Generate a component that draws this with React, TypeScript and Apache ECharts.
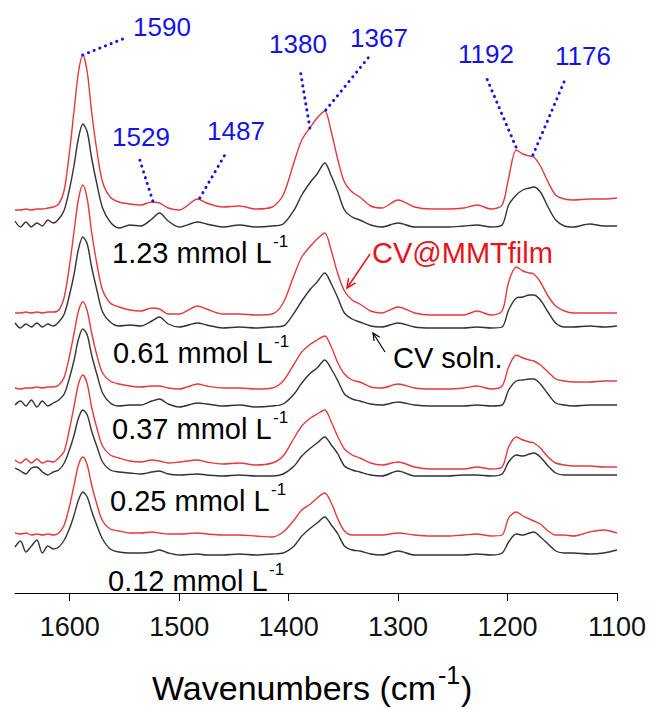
import React, { useEffect, useRef } from 'react';
import * as echarts from 'echarts';

// Wavenumber grid (cm-1) shared by every spectrum
const wavenumbers = [1650, 1645, 1640, 1635, 1630, 1625, 1620, 1615, 1610, 1605, 1600, 1596, 1592, 1588, 1584, 1580, 1575, 1570, 1563, 1555, 1545, 1535, 1525, 1518, 1510, 1500, 1483, 1475, 1460, 1445, 1430, 1415, 1405, 1395, 1388, 1380, 1374, 1367, 1361, 1355, 1349, 1342, 1335, 1325, 1315, 1300, 1285, 1270, 1255, 1240, 1228, 1215, 1205, 1199, 1192, 1186, 1180, 1176, 1170, 1163, 1156, 1148, 1140, 1125, 1112, 1100];

// Offset absorbance (a.u.) — CV@MMT film (red) and CV solution (black)
const film123 = [383, 383, 384, 383, 384, 384, 385, 386, 389, 403, 443, 483, 521, 538, 521, 481, 441, 411, 396, 391, 389, 388, 391, 390, 385, 383, 394, 390, 386, 387, 384, 386, 398, 431, 453, 466, 475, 482, 461, 433, 411, 401, 396, 387, 385, 393, 386, 384, 384, 385, 388, 384, 388, 415, 443, 439, 437, 436, 427, 411, 398, 394, 393, 394, 394, 395];
const soln123 = [372, 366, 371, 366, 370, 367, 373, 370, 374, 383, 405, 428, 455, 469, 461, 435, 408, 385, 371, 365, 368, 367, 374, 380, 372, 366, 371, 369, 366, 368, 366, 367, 369, 383, 398, 411, 419, 430, 417, 401, 383, 376, 373, 368, 366, 370, 366, 366, 366, 367, 368, 366, 368, 388, 398, 403, 405, 406, 401, 386, 373, 367, 366, 369, 367, 367];
const film061 = [280, 280, 281, 280, 281, 280, 281, 281, 283, 296, 329, 362, 394, 408, 394, 361, 328, 303, 290, 286, 283, 282, 285, 284, 279, 279, 287, 284, 279, 279, 278, 279, 290, 318, 336, 347, 354, 360, 342, 319, 302, 293, 289, 282, 280, 286, 280, 278, 278, 278, 282, 278, 282, 311, 326, 322, 320, 319, 311, 297, 287, 282, 280, 280, 280, 280];
const soln061 = [270, 265, 269, 266, 270, 266, 269, 267, 271, 279, 299, 319, 344, 356, 349, 326, 302, 281, 271, 267, 268, 267, 272, 276, 269, 266, 270, 268, 265, 266, 265, 266, 267, 280, 292, 304, 311, 320, 309, 295, 280, 274, 271, 267, 266, 270, 266, 265, 265, 265, 266, 265, 266, 283, 295, 296, 298, 298, 293, 281, 270, 266, 266, 267, 266, 267];
const film037 = [205, 204, 205, 205, 206, 205, 206, 206, 208, 216, 238, 260, 282, 291, 282, 260, 237, 220, 212, 209, 207, 206, 207, 207, 205, 204, 209, 207, 205, 205, 204, 205, 212, 229, 241, 249, 253, 257, 246, 230, 219, 213, 211, 206, 205, 209, 205, 204, 204, 205, 207, 204, 207, 226, 238, 235, 233, 232, 228, 221, 214, 212, 211, 211, 212, 212];
const soln037 = [188, 192, 187, 193, 186, 192, 187, 190, 193, 199, 216, 233, 254, 264, 258, 238, 218, 200, 190, 187, 188, 188, 192, 194, 189, 186, 190, 189, 187, 188, 186, 187, 189, 199, 210, 220, 225, 233, 224, 212, 199, 194, 192, 189, 188, 191, 188, 187, 187, 187, 188, 187, 188, 203, 212, 213, 214, 214, 209, 199, 190, 188, 187, 188, 188, 188];
const film025 = [133, 130, 134, 130, 134, 130, 132, 131, 135, 142, 165, 187, 209, 218, 209, 186, 164, 147, 138, 135, 132, 131, 133, 132, 130, 131, 133, 131, 129, 130, 128, 130, 137, 155, 167, 175, 179, 183, 171, 156, 144, 138, 135, 130, 128, 131, 126, 124, 124, 124, 126, 124, 126, 146, 156, 153, 151, 150, 145, 136, 130, 128, 127, 127, 126, 126];
const soln025 = [125, 122, 119, 125, 126, 121, 118, 121, 123, 130, 144, 158, 175, 183, 178, 162, 146, 131, 123, 121, 120, 119, 121, 122, 119, 118, 119, 118, 117, 118, 117, 117, 119, 127, 137, 145, 150, 156, 148, 139, 127, 123, 121, 118, 117, 122, 117, 117, 117, 118, 118, 117, 119, 131, 138, 137, 139, 140, 136, 127, 120, 118, 118, 118, 118, 118];
const film012 = [60, 59, 60, 58, 59, 58, 59, 58, 60, 68, 88, 108, 128, 136, 128, 108, 88, 72, 64, 62, 60, 60, 61, 60, 59, 59, 60, 59, 58, 58, 57, 56, 61, 73, 83, 89, 95, 100, 90, 74, 62, 58, 58, 58, 58, 60, 58, 57, 57, 58, 59, 57, 58, 75, 81, 77, 74, 72, 69, 62, 58, 58, 57, 61, 63, 60];
const soln012 = [46, 52, 41, 47, 53, 40, 47, 44, 46, 53, 65, 78, 93, 101, 96, 82, 67, 54, 44, 41, 40, 40, 41, 43, 40, 38, 39, 38, 38, 39, 38, 39, 40, 47, 57, 65, 70, 76, 68, 59, 47, 43, 42, 39, 38, 42, 38, 38, 38, 38, 39, 38, 40, 51, 59, 58, 60, 61, 56, 49, 42, 40, 40, 39, 40, 43];

const tickValues = [1600, 1500, 1400, 1300, 1200, 1100];
const concentrationLabels = ['1.23', '0.61', '0.37', '0.25', '0.12'];

// Peak assignments (anchor point on top film spectrum, end of dotted leader)
const peakLabels = ['1590', '1529', '1487', '1380', '1367', '1192', '1176'];
const peakAnchors = [[1588.1, 538], [1524.1, 392], [1481.2, 395], [1380.6, 465], [1366.0, 483], [1192.3, 446], [1176.8, 438]];
const peakLineEnds = [[1551.6, 554], [1536.0, 433], [1458.3, 438], [1389.8, 525], [1326.7, 536], [1218.8, 514], [1148.4, 511]];
const peakTextPos = [[162, 27], [141, 137], [236, 131], [298, 44], [379, 38], [486, 54], [583, 56]];

const FONT = '"Liberation Sans", Arial, Helvetica, sans-serif';
const RED = '#e8383a';
const BLACK = '#333333';
const BLUE = '#1414e6';

function txt(x: number, y: number, text: string, size: number, color: string, align = 'left') {
  return {
    type: 'text',
    x,
    y,
    silent: true,
    z: 100,
    style: {
      text,
      fill: color,
      font: `${size}px ${FONT}`,
      textAlign: align,
      align,
      textVerticalAlign: 'middle',
      verticalAlign: 'middle',
    },
  };
}

export default function App() {
  const ref = useRef<HTMLDivElement>(null);

  useEffect(() => {
    if (!ref.current) return;
    const chart = echarts.init(ref.current, undefined, { renderer: 'svg' });

    const pairs = [
      [film123, soln123],
      [film061, soln061],
      [film037, soln037],
      [film025, soln025],
      [film012, soln012],
    ];

    const series: any[] = [];
    pairs.forEach(([film, soln], k) => {
      series.push({
        type: 'line',
        name: `soln ${concentrationLabels[k]}`,
        data: wavenumbers.map((w, i) => [w, soln[i]]),
        showSymbol: false,
        smooth: 0.3,
        lineStyle: { color: BLACK, width: 1.4 },
        silent: true,
        z: 2,
      });
      const s: any = {
        type: 'line',
        name: `film ${concentrationLabels[k]}`,
        data: wavenumbers.map((w, i) => [w, film[i]]),
        showSymbol: false,
        smooth: 0.3,
        lineStyle: { color: RED, width: 1.4 },
        silent: true,
        z: 3,
      };
      if (k === 0) {
        s.markLine = {
          silent: true,
          symbol: ['none', 'none'],
          label: { show: false },
          animation: false,
          lineStyle: { color: BLUE, width: 3, type: [0.1, 6], cap: 'round' },
          data: peakAnchors.map((a, i) => [{ coord: a }, { coord: peakLineEnds[i] }]),
        };
      }
      series.push(s);
    });

    const labelLeft = [112, 113, 112, 110, 108];
    const labelMid = [253, 353, 429, 501, 581];
    const graphics: any[] = [];
    concentrationLabels.forEach((c, i) => {
      graphics.push(txt(labelLeft[i], labelMid[i], `${c} mmol L`, 29, '#000'));
      graphics.push(txt(labelLeft[i] + 161, labelMid[i] - 12, '-1', 17, '#000'));
    });
    peakLabels.forEach((p, i) => {
      graphics.push(txt(peakTextPos[i][0], peakTextPos[i][1], p, 26, BLUE, 'center'));
    });
    graphics.push(txt(372, 253, 'CV@MMTfilm', 29, '#e8141c'));
    graphics.push(txt(393, 358, 'CV soln.', 29, '#000'));
    // arrows
    graphics.push({ type: 'line', silent: true, shape: { x1: 370, y1: 254, x2: 347, y2: 288 }, style: { stroke: '#e8141c', lineWidth: 1.5 } });
    graphics.push({ type: 'polyline', silent: true, shape: { points: [[355.6, 282.8], [347, 288], [348.6, 278.1]] }, style: { stroke: '#e8141c', lineWidth: 1.5, fill: 'none' } });
    graphics.push({ type: 'line', silent: true, shape: { x1: 385, y1: 352, x2: 373, y2: 333 }, style: { stroke: '#000', lineWidth: 1.2 } });
    graphics.push({ type: 'polyline', silent: true, shape: { points: [[374, 341], [373, 333], [379.7, 337.3]] }, style: { stroke: '#000', lineWidth: 1.2, fill: 'none' } });
    // axis title
    graphics.push(txt(152, 688, 'Wavenumbers (cm', 34, '#000'));
    graphics.push(txt(438, 675, '-1', 25, '#000'));
    graphics.push(txt(461, 688, ')', 34, '#000'));

    chart.setOption({
      animation: false,
      backgroundColor: '#fff',
      grid: { left: 15, right: 36, top: 0, bottom: 116, containLabel: false },
      xAxis: {
        type: 'value',
        inverse: true,
        min: 1100,
        max: 1650,
        interval: 100,
        axisLine: { show: true, lineStyle: { color: '#000', width: 1 } },
        axisTick: { show: true, length: 8, customValues: tickValues, lineStyle: { color: '#000', width: 1 } },
        axisLabel: {
          customValues: tickValues,
          formatter: (v: number) => String(v),
          fontSize: 27,
          fontFamily: FONT,
          color: '#111',
          margin: 20,
        },
        splitLine: { show: false },
      },
      yAxis: { type: 'value', min: 0, max: 593, show: false, splitLine: { show: false } },
      series,
      graphic: graphics,
    });

    return () => chart.dispose();
  }, []);

  return (
    <div
      ref={ref}
      style={{ position: 'fixed', left: 0, top: 0, width: 653, height: 709, background: '#fff' }}
    />
  );
}
